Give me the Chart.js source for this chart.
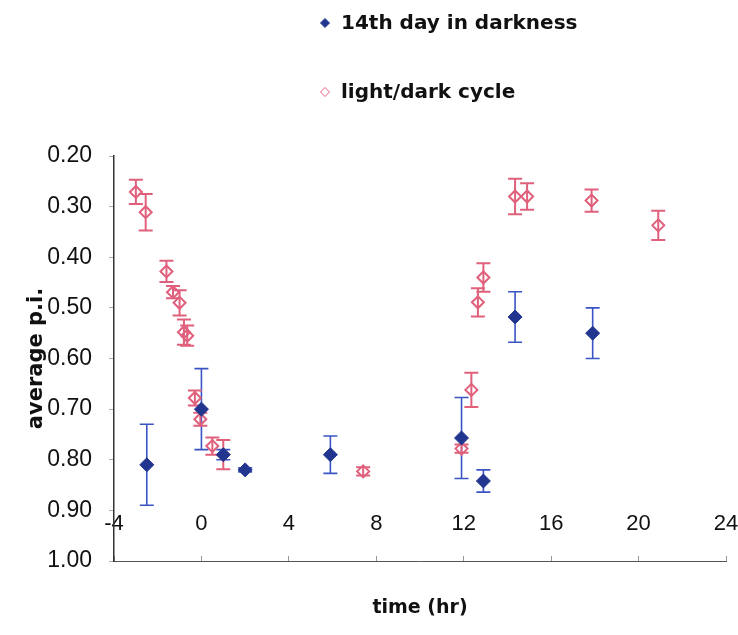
<!DOCTYPE html>
<html>
<head>
<meta charset="utf-8">
<script src="https://cdn.jsdelivr.net/npm/chart.js@4.4.1/dist/chart.umd.min.js"></script>
<style>
  html, body { margin: 0; padding: 0; background: #fff; }
</style>
</head>
<body>
<canvas id="piChart" width="738" height="635"></canvas>
<script>
const darkColor = "#22368f";
const darkBarColor = "#3a54c4";
const cycleColor = "#e0607c";

// 14th day in darkness
const darkTimes  = [-2.5, 0, 1.0, 2.0, 5.9, 11.9, 12.9, 14.35, 17.9];
const darkMeans  = [0.81, 0.70, 0.79, 0.82, 0.79, 0.757, 0.842, 0.518, 0.55];
const darkErrors = [0.08, 0.08, 0.01, 0.004, 0.037, 0.08, 0.022, 0.05, 0.05];

// light/dark cycle
const cycleTimes  = [-3.0, -2.55, -1.6, -1.3, -1.0, -0.8, -0.65, -0.3, -0.05, 0.5, 1.0,
                     7.4, 11.9, 12.35, 12.65, 12.9, 14.35, 14.9, 17.85, 20.9];
const cycleMeans  = [0.271, 0.311, 0.428, 0.469, 0.49, 0.548, 0.555, 0.678, 0.72, 0.773, 0.79,
                     0.823, 0.778, 0.662, 0.489, 0.44, 0.28, 0.28, 0.288, 0.337];
const cycleErrors = [0.024, 0.036, 0.021, 0.012, 0.025, 0.025, 0.02, 0.015, 0.013, 0.017, 0.029,
                     0.008, 0.008, 0.034, 0.028, 0.028, 0.035, 0.026, 0.022, 0.029];

const xTicks = [-4, 0, 4, 8, 12, 16, 20, 24];
const yTicks = [0.20, 0.30, 0.40, 0.50, 0.60, 0.70, 0.80, 0.90, 1.00];
const xLabelLevel = 0.90;   // time labels sit on this p.i. level

const toPoints = (xs, ys, errs) => xs.map((x, i) => ({ x, y: ys[i], err: errs[i] }));

// vertical error bars with caps, drawn under the markers
const errorBars = {
    id: 'errorBars',
    beforeDatasetsDraw(chart) {
        const { ctx, scales: { x, y } } = chart;
        chart.data.datasets.forEach((ds, i) => {
            if (!chart.isDatasetVisible(i)) return;
            ctx.save();
            ctx.strokeStyle = ds.errorColor;
            ctx.lineWidth = ds.errorWidth;
            const cap = 7;
            ds.data.forEach(p => {
                const px = x.getPixelForValue(p.x);
                const top = y.getPixelForValue(p.y - p.err);
                const bot = y.getPixelForValue(p.y + p.err);
                ctx.beginPath();
                ctx.moveTo(px, top); ctx.lineTo(px, bot);
                ctx.moveTo(px - cap, top); ctx.lineTo(px + cap, top);
                ctx.moveTo(px - cap, bot); ctx.lineTo(px + cap, bot);
                ctx.stroke();
            });
            ctx.restore();
        });
    }
};

// legend entries stacked one above the other
const stackedLegend = {
    id: 'stackedLegend',
    afterDraw(chart) {
        const ctx = chart.ctx;
        ctx.save();
        ctx.font = 'bold 20px "DejaVu Sans"';
        ctx.textBaseline = 'alphabetic';
        ctx.textAlign = 'left';
        chart.data.datasets.forEach((ds, i) => {
            const mx = 325, my = 23 + i * 69, r = 4.5;
            ctx.beginPath();
            ctx.moveTo(mx, my - r); ctx.lineTo(mx + r, my);
            ctx.lineTo(mx, my + r); ctx.lineTo(mx - r, my);
            ctx.closePath();
            ctx.lineWidth = 1;
            ctx.strokeStyle = ds.borderColor;
            ctx.fillStyle = ds.backgroundColor === 'transparent' ? '#fff' : ds.backgroundColor;
            ctx.fill();
            ctx.stroke();
            ctx.fillStyle = '#111';
            ctx.fillText(ds.label, 341, 29 + i * 69);
        });
        ctx.restore();
    }
};

new Chart(document.getElementById('piChart').getContext('2d'), {
    type: 'scatter',
    data: {
        datasets: [{
            label: '14th day in darkness',
            data: toPoints(darkTimes, darkMeans, darkErrors),
            pointStyle: 'rectRot',
            pointRadius: 7,
            pointHoverRadius: 7,
            backgroundColor: darkColor,
            borderColor: darkColor,
            borderWidth: 1,
            errorColor: darkBarColor,
            errorWidth: 1.6,
        }, {
            label: 'light/dark cycle',
            data: toPoints(cycleTimes, cycleMeans, cycleErrors),
            pointStyle: 'rectRot',
            pointRadius: 6,
            pointHoverRadius: 6,
            backgroundColor: 'transparent',
            borderColor: cycleColor,
            borderWidth: 2,
            errorColor: cycleColor,
            errorWidth: 2,
        }]
    },
    options: {
        responsive: false,
        animation: false,
        layout: { padding: { top: 156, right: 12, bottom: 0, left: 0 } },
        plugins: {
            legend: { display: false },
            tooltip: { enabled: false },
        },
        scales: {
            x: {
                type: 'linear',
                position: 'bottom',
                min: -4,
                max: 24,
                afterBuildTicks: (scale) => { scale.ticks = xTicks.map(v => ({ value: v })); },
                afterFit: (scale) => { scale.height = 74; },
                border: { display: true, color: '#555', width: 1 },
                grid: { drawOnChartArea: false, tickLength: -5, color: '#999' },
                ticks: { display: false },
                title: {
                    display: true,
                    text: 'time (hr)',
                    color: '#111',
                    font: { family: '"DejaVu Sans"', size: 19, weight: 'bold' },
                    padding: { top: 0, bottom: 16 }
                }
            },
            // labels only, placed across the plot at the 0.90 level
            xLabels: {
                type: 'linear',
                axis: 'x',
                position: { y: xLabelLevel },
                min: -4,
                max: 24,
                afterBuildTicks: (scale) => { scale.ticks = xTicks.map(v => ({ value: v })); },
                border: { display: false },
                grid: { display: false },
                ticks: {
                    padding: -8,
                    color: '#111',
                    font: { family: '"Liberation Sans"', size: 22 },
                    callback: (v) => `${v}`
                }
            },
            y: {
                type: 'linear',
                reverse: true,
                min: 0.2,
                max: 1.0,
                afterBuildTicks: (scale) => { scale.ticks = yTicks.map(v => ({ value: v })); },
                afterFit: (scale) => { scale.width = 114; },
                border: { display: true, color: '#333', width: 1.5 },
                grid: { drawOnChartArea: false, tickLength: 5, color: '#aaa' },
                ticks: {
                    padding: 17,
                    color: '#111',
                    font: { family: '"Liberation Sans"', size: 23 },
                    callback: (v) => v.toFixed(2)
                },
                title: {
                    display: true,
                    text: 'average p.i.',
                    color: '#111',
                    font: { family: '"DejaVu Sans"', size: 21, weight: 'bold' },
                    padding: { top: 24, bottom: 0 }
                }
            }
        }
    },
    plugins: [errorBars, stackedLegend]
});
</script>
</body>
</html>
